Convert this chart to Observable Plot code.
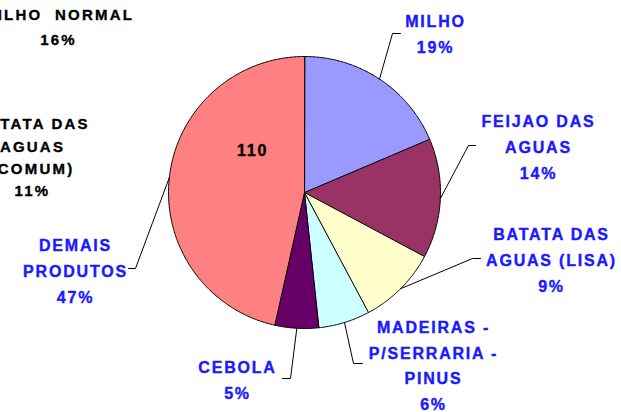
<!DOCTYPE html>
<html>
<head>
<meta charset="utf-8">
<script src="https://cdn.jsdelivr.net/npm/d3@7"></script>
<script src="https://cdn.jsdelivr.net/npm/@observablehq/plot@0.6"></script>
<style>
  html, body { margin: 0; padding: 0; background: #fff; }
  #chart svg { display: block; }
</style>
</head>
<body>
<div id="chart"></div>
<script>
// ---- data ----
const categories = ["MILHO", "FEIJAO DAS AGUAS", "BATATA DAS AGUAS (LISA)", "MADEIRAS - P/SERRARIA - PINUS", "CEBOLA", "DEMAIS PRODUTOS"];
const labelText = ["MILHO", "FEIJAO DAS\nAGUAS", "BATATA DAS\nAGUAS (LISA)", "MADEIRAS -\nP/SERRARIA -\nPINUS", "CEBOLA", "DEMAIS\nPRODUTOS"];
const shares = [18.6, 14.2, 9.4, 6.1, 5.2, 46.5];
const pctLabels = ["19%", "14%", "9%", "6%", "5%", "47%"];
const colors = ["#9999FF", "#993366", "#FFFFCC", "#CCFFFF", "#660066", "#FF8080"];
// leftover labels from an overlapping chart
const ghostTop = "MILHO\u00a0 NORMAL\n16%";
const ghostLeft = "BATATA DAS\nAGUAS\n(COMUM)\n11%";
const ghostValue = "110";

// ---- layout (pixels) ----
const W = 621, H = 412, cx = 304, cy = 192, R = 136;
const labelPos = [[435, 31], [538, 144], [551, 257.5], [433, 362.7], [237, 377.5], [75, 268]];
const leaderElbow = [[392, 33, 400], [468, 145, 475], [472, 258, 480], [353, 363, 362], [290, 378, 282], [135, 268, 128]];
const ghostTopPos = [58, 23.8], ghostLeftPos = [32, 155], ghostValuePos = [252, 150];

const toX = px => (px - cx) / R;
const toY = py => (cy - py) / R;

const arcs = d3.pie().sort(null).value(d => d)(shares);

const slices = arcs.map((a, i) => {
  const pts = [{x: 0, y: 0}];
  const n = Math.max(2, Math.ceil((a.endAngle - a.startAngle) / 0.01));
  for (let k = 0; k <= n; k++) {
    const t = a.startAngle + (a.endAngle - a.startAngle) * k / n;
    pts.push({x: Math.sin(t), y: Math.cos(t)});
  }
  return pts;
});

const leaders = arcs.map((a, i) => {
  const m = (a.startAngle + a.endAngle) / 2;
  const [ex, ey, endx] = leaderElbow[i];
  return [
    {x: Math.sin(m), y: Math.cos(m)},
    {x: toX(ex), y: toY(ey)},
    {x: toX(endx), y: toY(ey)}
  ];
});

const labels = categories.map((c, i) => ({
  x: toX(labelPos[i][0]), y: toY(labelPos[i][1]),
  text: labelText[i] + "\n" + pctLabels[i]
}));

const font = "'Liberation Sans', Arial, Helvetica, sans-serif";
const blue = "#1a1aff";

const marks = [];
slices.forEach((pts, i) => {
  marks.push(Plot.line(pts, {x: "x", y: "y", curve: "linear-closed", fill: colors[i], stroke: "black", strokeWidth: 1, strokeLinejoin: "round"}));
});
leaders.forEach(pts => {
  marks.push(Plot.line(pts, {x: "x", y: "y", stroke: "black", strokeWidth: 1}));
});
marks.push(Plot.text(labels, {x: "x", y: "y", text: "text", fill: blue, stroke: blue, strokeWidth: 0.4, fontSize: 16, fontWeight: "bold", fontFamily: font, lineHeight: 1.62, textAnchor: "middle", lineAnchor: "middle"}));
marks.push(Plot.text([{x: toX(ghostTopPos[0]), y: toY(ghostTopPos[1]), t: ghostTop}], {x: "x", y: "y", text: "t", fill: "black", stroke: "black", strokeWidth: 0.35, fontSize: 15, fontWeight: "bold", fontFamily: font, lineHeight: 1.7, textAnchor: "middle", lineAnchor: "middle"}));
marks.push(Plot.text([{x: toX(ghostLeftPos[0]), y: toY(ghostLeftPos[1]), t: ghostLeft}], {x: "x", y: "y", text: "t", fill: "black", stroke: "black", strokeWidth: 0.35, fontSize: 15, fontWeight: "bold", fontFamily: font, lineHeight: 1.47, textAnchor: "middle", lineAnchor: "middle"}));
marks.push(Plot.text([{x: toX(ghostValuePos[0]), y: toY(ghostValuePos[1]), t: ghostValue}], {x: "x", y: "y", text: "t", fill: "black", stroke: "black", strokeWidth: 0.4, fontSize: 16, fontWeight: "bold", fontFamily: font, textAnchor: "middle", lineAnchor: "middle"}));

const svg = Plot.plot({
  width: W, height: H, margin: 0,
  x: {domain: [toX(0), toX(W)], range: [0, W], axis: null},
  y: {domain: [toY(H), toY(0)], range: [H, 0], axis: null},
  style: {background: "white", overflow: "visible"},
  marks
});

const spacing = ["1.8px", "2.2px", "2.2px", "1.8px"];
d3.select(svg).selectAll('g[aria-label="text"]').each(function (d, i) {
  d3.select(this).style("letter-spacing", spacing[i] || "0px");
});

document.getElementById("chart").appendChild(svg);
</script>
</body>
</html>
